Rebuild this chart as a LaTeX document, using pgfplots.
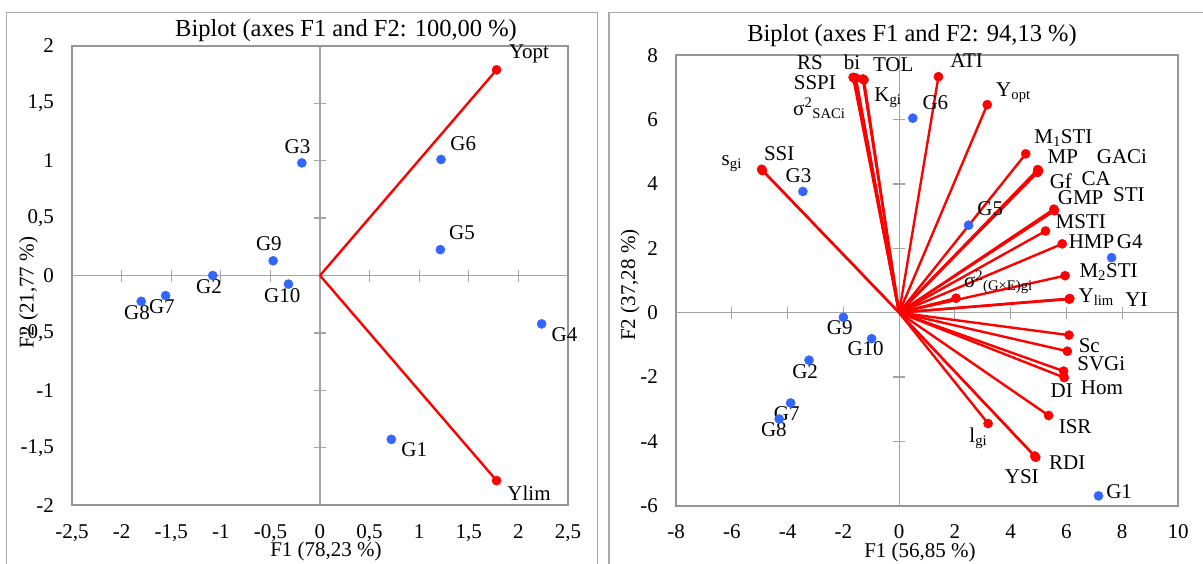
\documentclass[border=0pt]{standalone}
\usepackage{fontspec}
\setmainfont{Liberation Serif}
\usepackage{pgfplots}
\pgfplotsset{compat=1.18}

\definecolor{vecred}{RGB}{255,0,0}
\definecolor{obsblue}{RGB}{51,102,255}
\definecolor{framegray}{RGB}{170,170,170}
\definecolor{boxgray}{RGB}{150,150,150}
\definecolor{zerogray}{RGB}{165,165,165}

\newcommand\lab{\fontsize{21}{25}\selectfont}
\newcommand\ttl{\fontsize{24.5}{29}\selectfont}

\tikzset{lbl/.style={font=\lab, inner sep=0pt}}

\pgfplotsset{
  base/.style={scale only axis, clip=false, anchor=south west},
  zerolines/.style={base, axis lines=middle,
    axis line style={-, zerogray, line width=1.2pt},
    tick style={zerogray, line width=1.2pt},
    major tick length=12pt, tick align=center,
    xticklabels={}, yticklabels={}},
  mainbox/.style={base,
    axis line style={boxgray, line width=2pt},
    major tick length=0pt, tick style={draw=none},
    ticklabel style={font=\lab, inner sep=0pt},
    xticklabel style={anchor=north, yshift=-19pt},
    yticklabel style={anchor=east, xshift=-18pt}},
  leftgeom/.style={at={(72pt,57.7pt)}, width=496pt, height=459.6pt,
    xmin=-2.5, xmax=2.5, ymin=-2, ymax=2},
  rightgeom/.style={at={(676pt,57.5pt)}, width=502pt, height=450pt,
    xmin=-8, xmax=10, ymin=-6, ymax=8},
  vec/.style={vecred, line width=2.4pt, mark=none},
  vecend/.style={only marks, mark=*, mark size=4.6pt, vecred, mark options={fill=vecred, draw=vecred}},
  obs/.style={only marks, mark=*, mark size=4.6pt, obsblue, mark options={fill=obsblue, draw=obsblue}},
}

\begin{document}
\begin{tikzpicture}
\useasboundingbox (0,0) rectangle (1203pt,563pt);

% panel frames
\draw[framegray, line width=1.3pt] (6.7pt,-5pt) |- (597.7pt,550.3pt) -- (597.7pt,-5pt);
\draw[framegray, line width=1.3pt] (609pt,-5pt) |- (1210pt,550.3pt);

% ---------------- left biplot ----------------
\begin{axis}[zerolines, leftgeom,
  xtick={-2,-1.5,-1,-0.5,0.5,1,1.5,2},
  ytick={-1.5,-1,-0.5,0.5,1,1.5}]
\end{axis}

\begin{axis}[mainbox, leftgeom,
  xtick={-2.5,-2,-1.5,-1,-0.5,0,0.5,1,1.5,2,2.5},
  xticklabels={{-2,5},{-2},{-1,5},{-1},{-0,5},{0},{0,5},{1},{1,5},{2},{2,5}},
  ytick={-2,-1.5,-1,-0.5,0,0.5,1,1.5,2},
  yticklabels={{-2},{-1,5},{-1},{-0,5},{0},{0,5},{1},{1,5},{2}}]

\addplot[vec] coordinates {(0,0) (1.78,1.79)};
\addplot[vec] coordinates {(0,0) (1.78,-1.785)};
\addplot[vecend] coordinates {(1.78,1.79) (1.78,-1.785)};

\addplot[obs] coordinates {
  (0.719,-1.426) (-1.081,0.0) (-0.183,0.98) (2.234,-0.421) (1.213,0.225)
  (1.22,1.01) (-1.556,-0.175) (-1.802,-0.225) (-0.472,0.128) (-0.318,-0.075)};

\node[lbl] at (2.107,1.931) {Yopt};
\node[lbl] at (2.107,-1.891) {Ylim};
\node[lbl] at (-0.226,1.12) {G3};
\node[lbl] at (1.444,1.151) {G6};
\node[lbl] at (1.432,0.371) {G5};
\node[lbl] at (-0.515,0.278) {G9};
\node[lbl] at (-1.119,-0.097) {G2};
\node[lbl] at (-0.380,-0.175) {G10};
\node[lbl] at (-1.594,-0.268) {G7};
\node[lbl] at (-1.845,-0.321) {G8};
\node[lbl] at (2.465,-0.518) {G4};
\node[lbl] at (0.950,-1.516) {G1};
\end{axis}

\node[font=\ttl] at (346pt,532pt) {Biplot (axes F1 and F2: 100,00 \%)};
\node[font=\lab] at (326pt,11.5pt) {F1 (78,23 \%)};
\node[font=\lab, rotate=90] at (28.5pt,270.4pt) {F2 (21,77 \%)};

% ---------------- right biplot ----------------
\begin{axis}[zerolines, rightgeom,
  xtick={-6,-4,-2,2,4,6,8},
  ytick={-4,-2,2,4,6}]
\end{axis}

\begin{axis}[mainbox, rightgeom,
  xtick={-8,-6,-4,-2,0,2,4,6,8,10},
  xticklabels={-8,-6,-4,-2,0,2,4,6,8,10},
  ytick={-6,-4,-2,0,2,4,6,8},
  yticklabels={-6,-4,-2,0,2,4,6,8}]

% variable vectors
\addplot[vec] coordinates {(0,0) (-1.65,7.32)};  % RS
\addplot[vec] coordinates {(0,0) (-1.60,7.30)};  % SSPI
\addplot[vec] coordinates {(0,0) (-1.58,7.28)};  % sigma2 SACi
\addplot[vec] coordinates {(0,0) (-1.55,7.30)};  % bi
\addplot[vec] coordinates {(0,0) (-1.30,7.27)};  % TOL
\addplot[vec] coordinates {(0,0) (-1.26,7.24)};  % Kgi
\addplot[vec] coordinates {(0,0) (1.41,7.34)};   % ATI
\addplot[vec] coordinates {(0,0) (3.16,6.47)};   % Yopt
\addplot[vec] coordinates {(0,0) (4.54,4.94)};   % M1STI
\addplot[vec] coordinates {(0,0) (4.97,4.45)};   % MP
\addplot[vec] coordinates {(0,0) (4.99,4.40)};   % GACi
\addplot[vec] coordinates {(0,0) (4.96,4.36)};   % Gf
\addplot[vec] coordinates {(0,0) (5.00,4.42)};   % CA
\addplot[vec] coordinates {(0,0) (5.55,3.22)};   % GMP
\addplot[vec] coordinates {(0,0) (5.57,3.17)};   % STI
\addplot[vec] coordinates {(0,0) (5.25,2.54)};   % MSTI
\addplot[vec] coordinates {(0,0) (5.85,2.14)};   % HMP
\addplot[vec] coordinates {(0,0) (5.95,1.15)};   % M2STI
\addplot[vec] coordinates {(0,0) (2.04,0.45)};   % sigma2 GxE
\addplot[vec] coordinates {(0,0) (6.12,0.44)};   % Ylim
\addplot[vec] coordinates {(0,0) (6.10,0.42)};   % YI
\addplot[vec] coordinates {(0,0) (6.09,-0.70)};  % Sc
\addplot[vec] coordinates {(0,0) (6.03,-1.20)};  % SVGi
\addplot[vec] coordinates {(0,0) (5.90,-1.82)};  % DI
\addplot[vec] coordinates {(0,0) (5.92,-2.02)};  % Hom
\addplot[vec] coordinates {(0,0) (5.36,-3.20)};  % ISR
\addplot[vec] coordinates {(0,0) (3.19,-3.45)};  % lgi
\addplot[vec] coordinates {(0,0) (4.90,-4.50)};  % RDI
\addplot[vec] coordinates {(0,0) (4.86,-4.46)};  % YSI
\addplot[vec] coordinates {(0,0) (-4.93,4.46)};  % SSI
\addplot[vec] coordinates {(0,0) (-4.90,4.42)};  % sgi

\addplot[vecend] coordinates {
  (-1.65,7.32) (-1.60,7.30) (-1.58,7.28) (-1.55,7.30) (-1.30,7.27) (-1.26,7.24)
  (1.41,7.34) (3.16,6.47) (4.54,4.94) (4.97,4.45) (4.99,4.40) (4.96,4.36)
  (5.00,4.42) (5.55,3.22) (5.57,3.17) (5.25,2.54) (5.85,2.14) (5.95,1.15)
  (2.04,0.45) (6.12,0.44) (6.10,0.42) (6.09,-0.70) (6.03,-1.20) (5.90,-1.82)
  (5.92,-2.02) (5.36,-3.20) (3.19,-3.45) (4.90,-4.50) (4.86,-4.46)
  (-4.93,4.46) (-4.90,4.42)};

% genotypes
\addplot[obs] coordinates {
  (7.15,-5.70) (-3.23,-1.48) (-3.45,3.77) (7.62,1.71) (2.49,2.72)
  (0.49,6.05) (-3.89,-2.81) (-4.30,-3.31) (-2.00,-0.145) (-0.985,-0.81)};

\node[lbl] at (-3.20,7.78) {RS};
\node[lbl] at (-1.69,7.78) {bi};
\node[lbl] at (-0.21,7.72) {TOL};
\node[lbl] at (2.42,7.84) {ATI};
\node[lbl] at (-3.02,7.14) {SSPI};
\node[lbl] at (-2.86,6.36) {σ\textsuperscript{2}\textsubscript{SACi}};
\node[lbl] at (-0.40,6.69) {K\textsubscript{gi}};
\node[lbl] at (1.30,6.53) {G6};
\node[lbl] at (4.10,6.84) {Y\textsubscript{opt}};
\node[lbl] at (-6.00,4.63) {s\textsubscript{gi}};
\node[lbl] at (-4.30,4.96) {SSI};
\node[lbl] at (-3.61,4.27) {G3};
\node[lbl] at (5.89,5.43) {M\textsubscript{1}STI};
\node[lbl] at (5.87,4.85) {MP};
\node[lbl] at (7.99,4.85) {GACi};
\node[lbl] at (5.80,4.10) {Gf};
\node[lbl] at (7.07,4.16) {CA};
\node[lbl] at (6.51,3.59) {GMP};
\node[lbl] at (8.24,3.66) {STI};
\node[lbl] at (3.27,3.24) {G5};
\node[lbl] at (6.51,2.82) {MSTI};
\node[lbl] at (6.90,2.20) {HMP};
\node[lbl] at (8.27,2.20) {G4};
\node[lbl] at (7.51,1.26) {M\textsubscript{2}STI};
\node[lbl] at (3.56,0.95) {σ\textsuperscript{2}\textsubscript{(G×E)gi}};
\node[lbl] at (7.07,0.48) {Y\textsubscript{lim}};
\node[lbl] at (8.51,0.41) {YI};
\node[lbl] at (-2.13,-0.48) {G9};
\node[lbl] at (-1.20,-1.12) {G10};
\node[lbl] at (6.82,-1.02) {Sc};
\node[lbl] at (7.25,-1.58) {SVGi};
\node[lbl] at (-3.37,-1.84) {G2};
\node[lbl] at (5.83,-2.42) {DI};
\node[lbl] at (7.27,-2.34) {Hom};
\node[lbl] at (-4.03,-3.15) {G7};
\node[lbl] at (-4.49,-3.63) {G8};
\node[lbl] at (6.31,-3.54) {ISR};
\node[lbl] at (2.84,-3.90) {l\textsubscript{gi}};
\node[lbl] at (6.03,-4.66) {RDI};
\node[lbl] at (4.40,-5.10) {YSI};
\node[lbl] at (7.89,-5.58) {G1};
\end{axis}

\node[font=\ttl] at (912pt,527pt) {Biplot (axes F1 and F2: 94,13 \%)};
\node[font=\lab] at (920pt,10.5pt) {F1 (56,85 \%)};
\node[font=\lab, rotate=90] at (630pt,278pt) {F2 (37,28 \%)};
\end{tikzpicture}
\end{document}
